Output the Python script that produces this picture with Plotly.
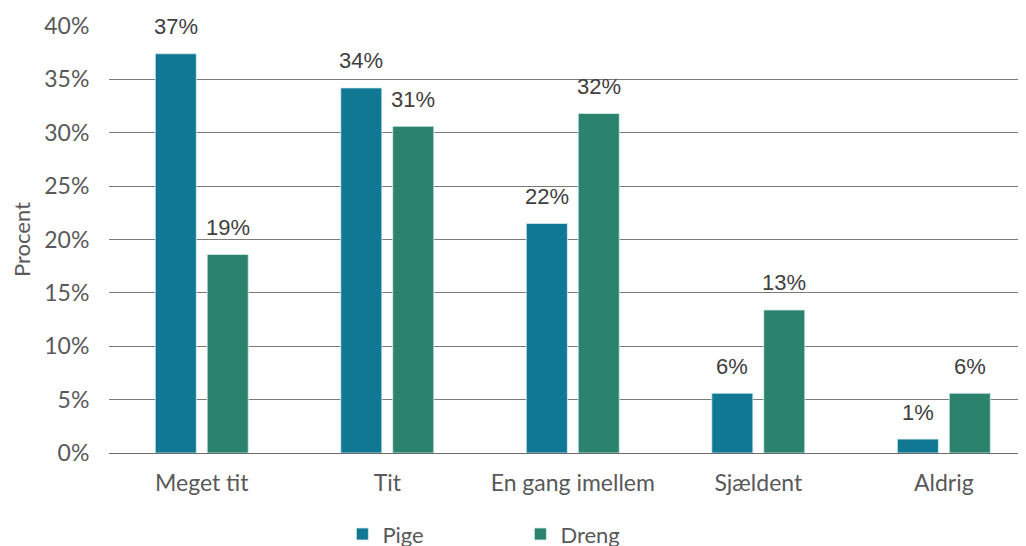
import plotly.graph_objects as go

# ── data ─────────────────────────────────────────────────────────────────────
categories = ["Meget tit", "Tit", "En gang imellem", "Sjældent", "Aldrig"]
pige = [37.4, 34.2, 21.5, 5.6, 1.3]
dreng = [18.6, 30.6, 31.8, 13.4, 5.6]
y_ticks = [0, 5, 10, 15, 20, 25, 30, 35, 40]
y_labels = [f"{v}%" for v in y_ticks]

PIGE_COL = "#117894"
DRENG_COL = "#2b836d"
LABEL_COL = "#404040"
AXIS_COL = "#595959"
FONT = "Lato, Open Sans, sans-serif"
LABEL_FONT = "Liberation Sans, Arial, sans-serif"

fig = go.Figure()
for name, vals, col in [("Pige", pige, PIGE_COL), ("Dreng", dreng, DRENG_COL)]:
    fig.add_trace(go.Bar(
        x=categories, y=vals, name=name,
        marker=dict(color=col, line=dict(color="#d8ecf2", width=0.8)),
    ))

# value labels above each bar
for vals, shift in [(pige, -26), (dreng, 26)]:
    for cat, v in zip(categories, vals):
        fig.add_annotation(
            x=cat, y=v, text=f"{round(v):.0f}%", showarrow=False,
            xshift=shift, yshift=27, yanchor="middle",
            font=dict(family=LABEL_FONT, size=22, color=LABEL_COL),
        )

# page body has an 8px margin, so the figure is laid out 8px up/left
fig.update_layout(
    width=1026, height=546,
    paper_bgcolor="white", plot_bgcolor="white",
    margin=dict(l=101, r=8, t=18, b=101, autoexpand=False),
    barmode="group", bargap=0.44, bargroupgap=0.21,
    font=dict(family=FONT, color=AXIS_COL),
    legend=dict(
        orientation="h", x=0.2545, xanchor="left", y=-0.141, yanchor="top",
        font=dict(family=FONT, size=22, color=AXIS_COL),
        entrywidth=133, itemwidth=30,
    ),
)

fig.update_xaxes(
    range=[-0.5, 4.443], showgrid=False, showline=False, zeroline=False,
    automargin=False,
    ticks="outside", ticklen=9, tickcolor="rgba(0,0,0,0)",
    tickfont=dict(family=FONT, size=23, color=AXIS_COL),
)
fig.update_yaxes(
    range=[0, 40], tickvals=y_ticks, ticktext=y_labels,
    showgrid=True, gridcolor="#7a7a7a", gridwidth=1,
    zeroline=True, zerolinecolor="#6a6a6a", zerolinewidth=1,
    automargin=False,
    ticks="outside", ticklen=14, tickcolor="rgba(0,0,0,0)",
    tickfont=dict(family=FONT, size=23, color=AXIS_COL),
    title=dict(text="Procent", font=dict(family=FONT, size=22, color=AXIS_COL)),
)

fig.write_html("out.html")
